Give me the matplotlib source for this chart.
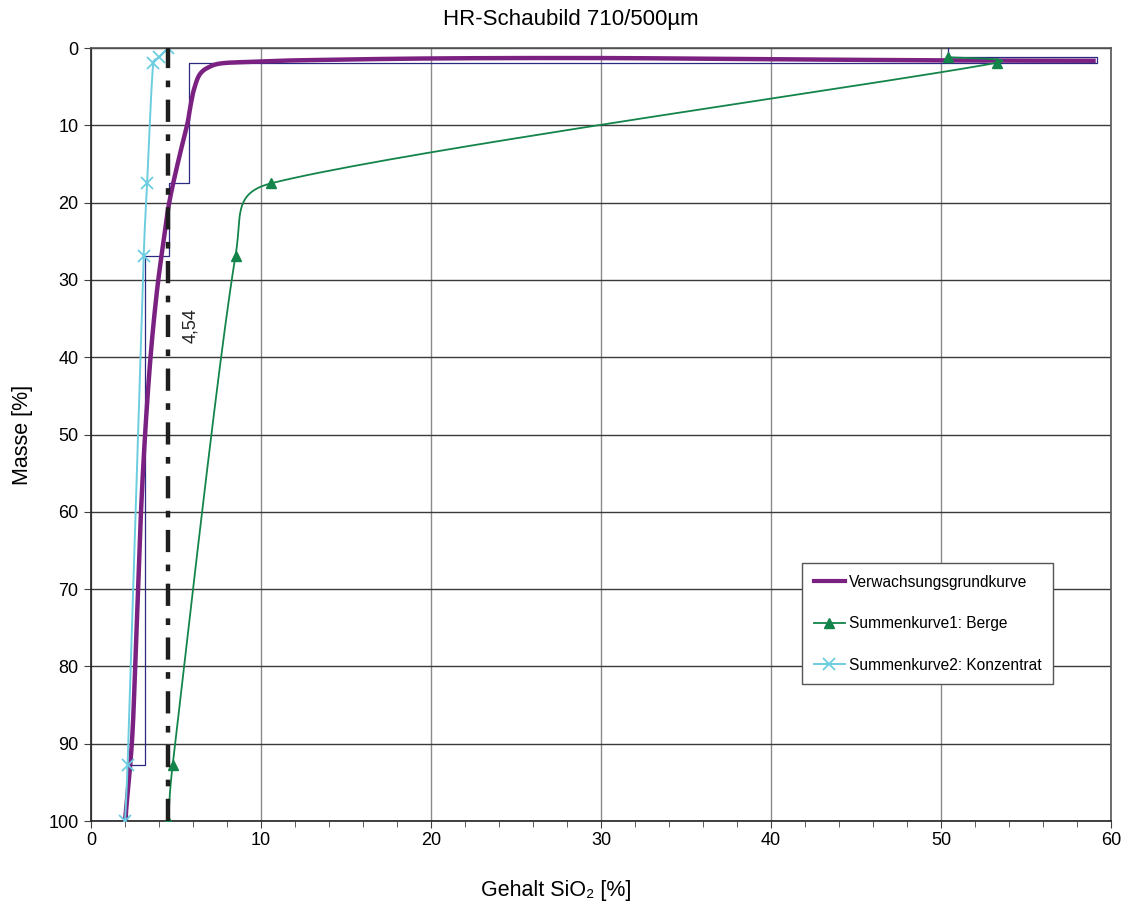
import numpy as np
import matplotlib
matplotlib.use('Agg')
import matplotlib.pyplot as plt
from matplotlib.lines import Line2D
from matplotlib.ticker import MultipleLocator

plt.rcParams['font.family'] = ['Liberation Sans', 'DejaVu Sans']

# --- data (x = SiO2 [%], y = cumulative mass [%]) ---
grund_x = [2.0, 2.4, 2.6, 2.77, 2.94, 3.18, 3.5, 3.85, 4.2, 4.6, 5.2, 5.65,
           5.85, 6.05, 6.4, 7.0, 7.8, 10.0, 12.0, 20.0, 30.0, 40.0, 50.0, 59.1]
grund_y = [100, 90, 80, 70, 60, 50, 40, 32, 26, 20, 14, 10,
           7.5, 5.4, 3.4, 2.4, 1.95, 1.75, 1.6, 1.35, 1.3, 1.45, 1.6, 1.65]

berge_x = [4.54, 4.8, 8.5, 10.6, 53.3, 50.4]
berge_y = [100, 92.8, 26.9, 17.5, 1.9, 1.2]

konz_x = [2.0, 2.15, 3.1, 3.3, 3.66, 4.0, 4.54]
konz_y = [100, 92.8, 26.9, 17.5, 1.9, 1.2, 0]

# histogram steps of the fractions
step_x = [0, 2.1, 2.1, 3.2, 3.2, 4.6, 4.6, 5.76, 5.76, 59.2, 59.2, 50.4, 50.4]
step_y = [100, 100, 92.8, 92.8, 26.9, 26.9, 17.5, 17.5, 1.9, 1.9, 1.2, 1.2, 0]

cut_value = 4.54


def smooth(xs, ys, n=40):
    # Excel-style smoothed line: cubic Bezier, arms = 1/6 of neighbour chord,
    # capped at half the segment length. Done in screen-like units.
    sx, sy = 17.0, 7.73
    P = np.column_stack([np.asarray(xs, float) * sx, np.asarray(ys, float) * sy])
    m = len(P)
    out = [P[:1]]
    t = np.linspace(0, 1, n)[1:, None]
    for i in range(m - 1):
        p0 = P[i - 1] if i > 0 else P[i]
        p1, p2 = P[i], P[i + 1]
        p3 = P[i + 2] if i + 2 < m else P[i + 1]
        d12 = np.linalg.norm(p2 - p1)
        arms = []
        for a in ((p2 - p0) / 6, (p3 - p1) / 6):
            la = np.linalg.norm(a)
            if la > d12 / 2:
                a = a * (d12 / 2) / la
            arms.append(a)
        c1 = p1 + arms[0]
        c2 = p2 - arms[1]
        b = (1 - t) ** 3 * p1 + 3 * (1 - t) ** 2 * t * c1 + 3 * (1 - t) * t ** 2 * c2 + t ** 3 * p2
        out.append(b)
    c = np.vstack(out)
    return c[:, 0] / sx, c[:, 1] / sy


purple = '#7b2182'
green = '#14854a'
cyan = '#6ccde0'
navy = '#2a2a80'

fig = plt.figure(figsize=(11.25, 9.06), dpi=100)
ax = fig.add_axes([0.0809, 0.0938, 0.9067, 0.8532])

ax.plot(step_x, step_y, color=navy, lw=0.9, zorder=3)

gx, gy = smooth(grund_x, grund_y)
ax.plot(gx, gy, color=purple, lw=3.2, zorder=4, solid_capstyle='butt')

bx, by = smooth(berge_x, berge_y)
ax.plot(bx, by, color=green, lw=1.3, zorder=5)
ax.plot(berge_x, berge_y, ls='none', marker='^', ms=7, color=green, zorder=6)

kx, ky = smooth(konz_x, konz_y)
ax.plot(kx, ky, color=cyan, lw=1.4, zorder=5)
ax.plot(konz_x, konz_y, ls='none', marker='x', ms=8, mew=1.3, color=cyan, zorder=6)

ax.axvline(cut_value, color='#1e1e1e', lw=3.2, dashes=(5.0, 2.8, 1.5, 2.8), zorder=7)
ax.text(5.86, 35.9, '4,54', rotation=90, ha='center', va='center', fontsize=13, color='#222222')

ax.set_xlim(0, 60)
ax.set_ylim(100, 0)
ax.xaxis.set_major_locator(MultipleLocator(10))
ax.xaxis.set_minor_locator(MultipleLocator(2))
ax.yaxis.set_major_locator(MultipleLocator(10))
ax.tick_params(axis='both', which='both', direction='out', labelsize=13, color='#404040')
ax.tick_params(axis='both', which='major', length=5)
ax.tick_params(axis='y', which='major', pad=4)
ax.tick_params(axis='x', which='major', pad=3)
ax.tick_params(axis='x', which='minor', length=4)

ax.grid(axis='y', color='#3a3a3a', lw=1.0)
ax.grid(axis='x', color='#8a8a8a', lw=1.0)
ax.set_axisbelow(True)
for s in ax.spines.values():
    s.set_color('#555555')
    s.set_linewidth(1.2)
ax.spines['left'].set_color('#222222')
ax.spines['bottom'].set_color('#222222')

fig.text(0.507, 0.979, 'HR-Schaubild 710/500µm', ha='center', va='center', fontsize=16)
fig.text(0.494, 0.017, 'Gehalt SiO₂ [%]', ha='center', va='center', fontsize=15.5)
fig.text(0.020, 0.520, 'Masse [%]', ha='center', va='center', rotation=90, fontsize=15.5)

handles = [
    Line2D([], [], color=purple, lw=3),
    Line2D([], [], color=green, lw=1.3, marker='^', ms=7),
    Line2D([], [], color=cyan, lw=1.4, marker='x', ms=8, mew=1.3),
]
labels = ['Verwachsungsgrundkurve', 'Summenkurve1: Berge', 'Summenkurve2: Konzentrat']
leg = ax.legend(handles, labels, loc='lower left', bbox_to_anchor=(0.697, 0.177),
                fontsize=11.2, frameon=True, fancybox=False, shadow=False,
                labelspacing=1.7, handlelength=2.0, handletextpad=0.25,
                borderpad=0.75, borderaxespad=0, numpoints=1, framealpha=1)
leg.get_frame().set_edgecolor('#555555')
leg.get_frame().set_linewidth(1.0)

fig.savefig('out.png', dpi=100)
